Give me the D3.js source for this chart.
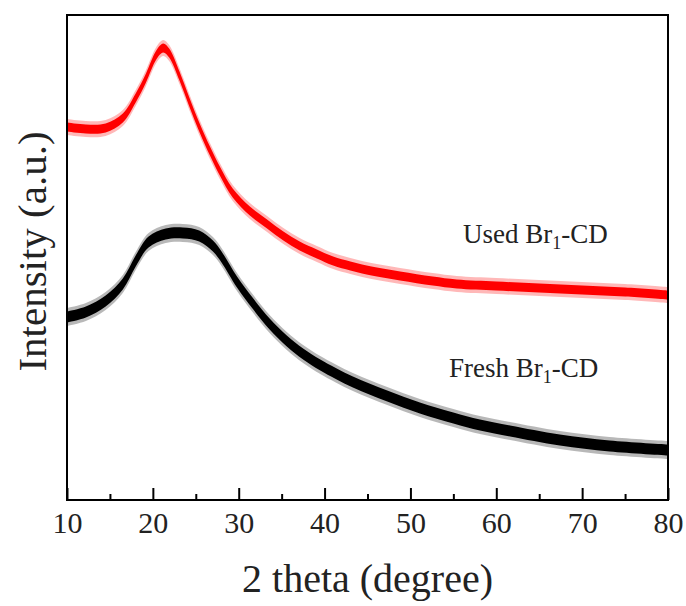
<!DOCTYPE html>
<html>
<head>
<meta charset="utf-8">
<script src="https://cdn.jsdelivr.net/npm/d3@7"></script>
<style>
  html, body { margin: 0; padding: 0; background: #fff; }
  svg { display: block; }
  text { font-family: "Liberation Serif", "Times New Roman", serif; fill: #222; }
</style>
</head>
<body>
<svg id="chart" width="686" height="606"></svg>
<script>
// ---- data ----
const usedTheta = [10.0, 12.2, 14.5, 16.5, 18.0, 19.2, 20.4, 21.2, 21.9, 23.1, 24.2, 25.5, 26.65, 27.8, 29.3, 31.3, 33.3, 35.2, 37.1, 39.1, 41.0, 43.0, 44.9, 48.8, 52.6, 55.4, 60.0, 65.0, 70.0, 75.0, 80.0];
const usedIntensity = [373, 371, 372, 382, 402, 422, 445, 452, 447, 424, 399, 371, 349, 329, 307, 289, 276, 264, 254, 246, 239, 234, 230, 224, 219, 216, 214, 212, 210, 208, 205];

const freshTheta = [10.0, 12.2, 14.5, 16.5, 18.0, 19.5, 21.5, 23.5, 25.4, 27.0, 28.0, 29.8, 31.7, 33.6, 35.6, 37.5, 39.5, 43.3, 47.3, 51.1, 55.0, 58.1, 61.6, 67.4, 73.2, 80.0];
const freshIntensity = [183, 188, 199, 216, 239, 258, 266, 267, 264, 254, 243, 218, 196, 176, 159, 146, 135, 118, 104, 92, 82, 75, 69, 60, 54, 50];

const xMajorTicks = [10, 20, 30, 40, 50, 60, 70, 80];
const xMinorTicks = [15, 25, 35, 45, 55, 65, 75];
const seriesNames = ["Used Br", "Fresh Br"];

// ---- layout ----
const svg = d3.select("#chart");
const mL = 67, mR = 668, mT = 15, mB = 500;

const x = d3.scaleLinear().domain([10, 80]).range([mL, mR]);
const y = d3.scaleLinear().domain([0, 485]).range([mB, mT]);

svg.append("clipPath").attr("id", "plotclip")
  .append("rect").attr("x", mL).attr("y", mT).attr("width", mR - mL).attr("height", mB - mT);

const curve = d3.curveCatmullRom.alpha(0.5);

function drawSeries(thetas, vals, color, halfBand, fringe) {
  const pts = thetas.map((t, i) => ({ t, v: vals[i] }));
  const g = svg.append("g").attr("clip-path", "url(#plotclip)");
  const band = h => d3.area()
    .x(d => x(d.t))
    .y0(d => y(d.v) + h)
    .y1(d => y(d.v) - h)
    .curve(curve);
  g.append("path").datum(pts).attr("d", band(fringe)).attr("fill", color).attr("opacity", 0.28);
  g.append("path").datum(pts).attr("d", band(halfBand)).attr("fill", color);
}

drawSeries(usedTheta, usedIntensity, "#ff0000", 4.5, 8);
drawSeries(freshTheta, freshIntensity, "#000000", 5.5, 9);

// ---- axes ----
const xAxis = d3.axisBottom(x).tickValues(xMajorTicks).tickSize(-12).tickPadding(12).tickFormat(d3.format("d"));
const gx = svg.append("g").attr("transform", `translate(0,${mB})`).call(xAxis);
gx.select(".domain").remove();
gx.selectAll(".tick line").attr("stroke", "#000").attr("stroke-width", 2);
gx.selectAll(".tick text").style("font-size", "30px").style("font-family", "\"Liberation Serif\", serif").attr("fill", "#222");

const xMinor = d3.axisBottom(x).tickValues(xMinorTicks).tickSize(-6).tickFormat("");
const gxm = svg.append("g").attr("transform", `translate(0,${mB})`).call(xMinor);
gxm.select(".domain").remove();
gxm.selectAll(".tick line").attr("stroke", "#000").attr("stroke-width", 2);

// frame
svg.append("rect").attr("x", mL).attr("y", mT).attr("width", mR - mL).attr("height", mB - mT)
  .attr("fill", "none").attr("stroke", "#000").attr("stroke-width", 2);

// axis titles
svg.append("text").attr("x", (mL + mR) / 2).attr("y", 592).attr("text-anchor", "middle")
  .style("font-size", "40px").text("2 theta (degree)");
svg.append("text").attr("transform", `translate(46,${(mT + mB) / 2 - 6}) rotate(-90)`)
  .attr("text-anchor", "middle").style("font-size", "41px").text("Intensity (a.u.)");

// annotations
function label(xp, yp, name) {
  const t = svg.append("text").attr("x", xp).attr("y", yp).style("font-size", "27px");
  t.append("tspan").text(name);
  t.append("tspan").attr("dy", 6).style("font-size", "18px").text("1");
  t.append("tspan").attr("dy", -6).text("-CD");
}
label(463, 243, seriesNames[0]);
label(449, 377, seriesNames[1]);
</script>
</body>
</html>
